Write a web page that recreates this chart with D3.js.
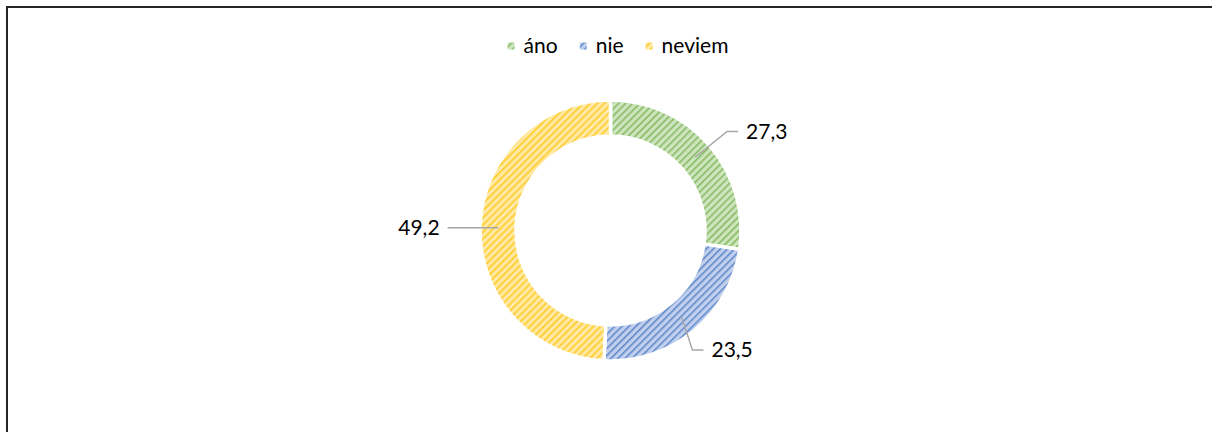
<!DOCTYPE html>
<html>
<head>
<meta charset="utf-8">
<script src="https://cdn.jsdelivr.net/npm/d3@7"></script>
<style>
  html, body { margin: 0; padding: 0; background: #fff; }
  svg { display: block; }
  text { font-family: Lato, "Noto Sans", sans-serif; fill: #000; }
</style>
</head>
<body>
<svg id="chart" width="1212" height="432"></svg>
<script>
// Answer shares (%)
const categories = ["áno", "nie", "neviem"];
const values = [27.3, 23.5, 49.2];
const valueLabels = ["27,3", "23,5", "49,2"];
const baseColors = ["#70AD47", "#4472C4", "#FFC000"];
const lightColors = ["#CDE5BD", "#C0D0EC", "#FFE9A3"];

const W = 1212, H = 432;
const cx = 610.5, cy = 230.5;
const outerR = 130.5, innerR = 94.5;
const fontSize = 21;

const svg = d3.select("#chart");
const defs = svg.append("defs");

// Diagonal hatch fill for each slice
categories.forEach((c, i) => {
  const p = defs.append("pattern")
    .attr("id", "hatch" + i)
    .attr("patternUnits", "userSpaceOnUse")
    .attr("width", 5).attr("height", 5)
    .attr("patternTransform", "rotate(45)");
  p.append("rect").attr("width", 5).attr("height", 5).attr("fill", lightColors[i]);
  p.append("rect").attr("x", 0).attr("width", 1.5).attr("height", 5)
    .attr("fill", baseColors[i]).attr("opacity", 0.8);
});

// Frame edges
svg.append("line").attr("x1", 6).attr("x2", W).attr("y1", 7).attr("y2", 7)
  .attr("stroke", "#262626").attr("stroke-width", 2);
svg.append("line").attr("x1", 7).attr("x2", 7).attr("y1", 6).attr("y2", H)
  .attr("stroke", "#262626").attr("stroke-width", 2);

// Donut
const pie = d3.pie().sort(null).value(d => d.value);
const data = categories.map((c, i) => ({ cat: c, value: values[i], label: valueLabels[i], i }));
const arcs = pie(data);
const arc = d3.arc().innerRadius(innerR).outerRadius(outerR);

const g = svg.append("g").attr("transform", `translate(${cx},${cy})`);
g.selectAll("path.slice")
  .data(arcs)
  .join("path")
  .attr("class", "slice")
  .attr("d", arc)
  .attr("fill", d => `url(#hatch${d.data.i})`)
  .attr("stroke", "#fff")
  .attr("stroke-width", 3.5)
  .attr("stroke-linejoin", "miter");

// Data labels with leader lines (elbow placed slightly off the slice's mid-angle)
const midR = (innerR + outerR) / 2 - 0.5;
const elbowR = [153, 145, 152];
const elbowShiftDeg = [0.5, 5, 0];
const hook = 11;
const labelsG = g.append("g");
arcs.forEach((a, k) => {
  const ang = (a.startAngle + a.endAngle) / 2;
  const eAng = ang + elbowShiftDeg[k] * Math.PI / 180;
  const p0 = [midR * Math.sin(ang), -midR * Math.cos(ang)];
  const right = Math.sin(ang) >= 0;
  let p1 = [elbowR[k] * Math.sin(eAng), -elbowR[k] * Math.cos(eAng)];
  if (Math.abs(Math.sin(ang)) > 0.99) p1 = [p1[0], p0[1]];
  const p2 = [p1[0] + (right ? hook : -hook), p1[1]];
  labelsG.append("polyline")
    .attr("points", [p0, p1, p2].map(p => p.join(",")).join(" "))
    .attr("fill", "none")
    .attr("stroke", "#A6A6A6")
    .attr("stroke-width", 1.5);
  labelsG.append("text")
    .attr("x", p2[0] + (right ? 8 : -8))
    .attr("y", p2[1])
    .attr("dy", "0.35em")
    .attr("text-anchor", right ? "start" : "end")
    .attr("font-size", fontSize)
    .text(a.data.label);
});

// Legend
const legend = svg.append("g");
const legendCenter = 618, legendY = 46;
const sq = 7, sqGap = 9, itemGap = 22;
const items = legend.selectAll("g.item").data(data).join("g").attr("class", "item");
items.append("rect").attr("width", sq).attr("height", sq)
  .attr("y", -sq / 2).attr("fill", d => `url(#hatch${d.i})`);
items.append("text")
  .attr("x", sq + sqGap).attr("dy", "0.35em")
  .attr("font-size", fontSize)
  .text(d => d.cat);
const widths = [];
items.each(function () { widths.push(this.getBBox().width); });
const total = d3.sum(widths) + itemGap * (widths.length - 1);
let x0 = legendCenter - total / 2;
items.attr("transform", (d, i) => {
  const t = `translate(${x0},${legendY})`;
  x0 += widths[i] + itemGap;
  return t;
});
</script>
</body>
</html>
